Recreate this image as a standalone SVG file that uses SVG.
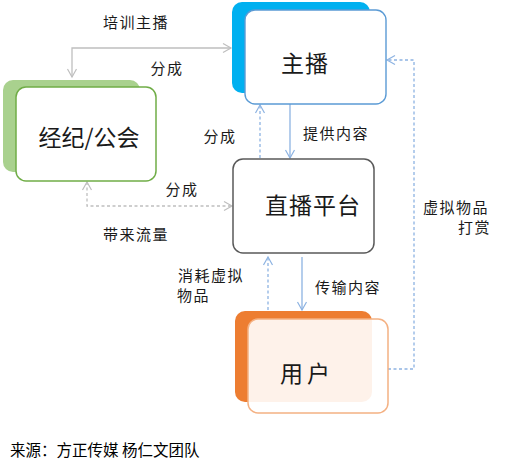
<svg xmlns="http://www.w3.org/2000/svg" width="517" height="471" viewBox="0 0 517 471">
<style>
text{font-family:"Noto Sans CJK SC","Noto Sans",sans-serif;fill:#1a1a1a}
.node{font-size:23px;text-anchor:middle}
.lbl{font-size:15px;letter-spacing:1.5px}
.c{text-anchor:middle}
.grey{stroke:#bfbfbf;stroke-width:1.3;fill:none}
.blue{stroke:#8db3e2;stroke-width:1.3;fill:none}
.dash{stroke-dasharray:3,2.5}
</style>
<defs>
<marker id="ag" markerUnits="userSpaceOnUse" markerWidth="12" markerHeight="12" refX="9" refY="5" orient="auto-start-reverse" viewBox="0 0 12 10">
<path d="M1,0.5 L9,5 L1,9.5" fill="none" stroke="#bfbfbf" stroke-width="1.2"/>
</marker>
<marker id="ab" markerUnits="userSpaceOnUse" markerWidth="12" markerHeight="12" refX="9" refY="5" orient="auto-start-reverse" viewBox="0 0 12 10">
<path d="M1,0.5 L9,5 L1,9.5" fill="none" stroke="#8db3e2" stroke-width="1.2"/>
</marker>
</defs>
<rect width="517" height="471" fill="#ffffff"/>

<g id="connectors">
<polyline class="grey" points="72,77 72,48 231,48" marker-start="url(#ag)" marker-end="url(#ag)"/>
<polyline class="grey dash" points="87,182 87,206 232,206" marker-start="url(#ag)" marker-end="url(#ag)"/>
<line class="blue" x1="290" y1="104" x2="290" y2="158" marker-end="url(#ab)"/>
<line class="blue dash" x1="260" y1="158" x2="260" y2="105" marker-end="url(#ab)"/>
<line class="blue" x1="302" y1="257" x2="302" y2="310" marker-end="url(#ab)"/>
<line class="blue dash" x1="268" y1="310" x2="268" y2="257" marker-end="url(#ab)"/>
<polyline class="blue dash" points="388,369 414,369 414,60 387,60" marker-end="url(#ab)"/>
</g>

<g id="labels">
<text class="lbl c" x="136" y="28">培训主播</text>
<text class="lbl c" x="167" y="74">分成</text>
<text class="lbl c" x="220" y="142">分成</text>
<text class="lbl c" x="336" y="139">提供内容</text>
<text class="lbl c" x="182" y="195">分成</text>
<text class="lbl c" x="136" y="240">带来流量</text>
<text class="lbl" x="178" y="281">消耗虚拟</text>
<text class="lbl" x="177" y="301">物品</text>
<text class="lbl c" x="348" y="293">传输内容</text>
<text class="lbl" x="423" y="213">虚拟物品</text>
<text class="lbl" x="491" y="233" text-anchor="end">打赏</text>
</g>

<g id="node-zhubo">
<rect x="232" y="2" width="138" height="91" rx="10" fill="#00b0f0"/>
<rect x="245" y="10" width="141" height="94" rx="10" fill="#ffffff" stroke="#5b9bd5" stroke-width="1.4"/>
<text class="node" x="305" y="72" letter-spacing="1">主播</text>
</g>

<g id="node-jingji">
<rect x="3" y="80" width="137" height="92" rx="10" fill="#a9d18e"/>
<rect x="16" y="87" width="140" height="94" rx="10" fill="#ffffff" stroke="#70ad47" stroke-width="1.5"/>
<text class="node" x="89" y="146">经纪/公会</text>
</g>

<g id="node-pingtai">
<rect x="233" y="159" width="141" height="94" rx="10" fill="#ffffff" stroke="#595959" stroke-width="1.5"/>
<text class="node" x="313" y="214" font-size="25" letter-spacing="1">直播平台</text>
</g>

<g id="node-yonghu">
<rect x="235" y="311" width="137" height="91" rx="10" fill="#ed7d31"/>
<rect x="248" y="319" width="140" height="94" rx="10" fill="#ffffff" fill-opacity="0.9" stroke="#f4b183" stroke-width="1.5"/>
<text class="node" x="307" y="382" letter-spacing="4">用户</text>
</g>

<text x="10" y="456" font-size="15.5" style="fill:#000">来源：方正传媒 杨仁文团队</text>
</svg>
